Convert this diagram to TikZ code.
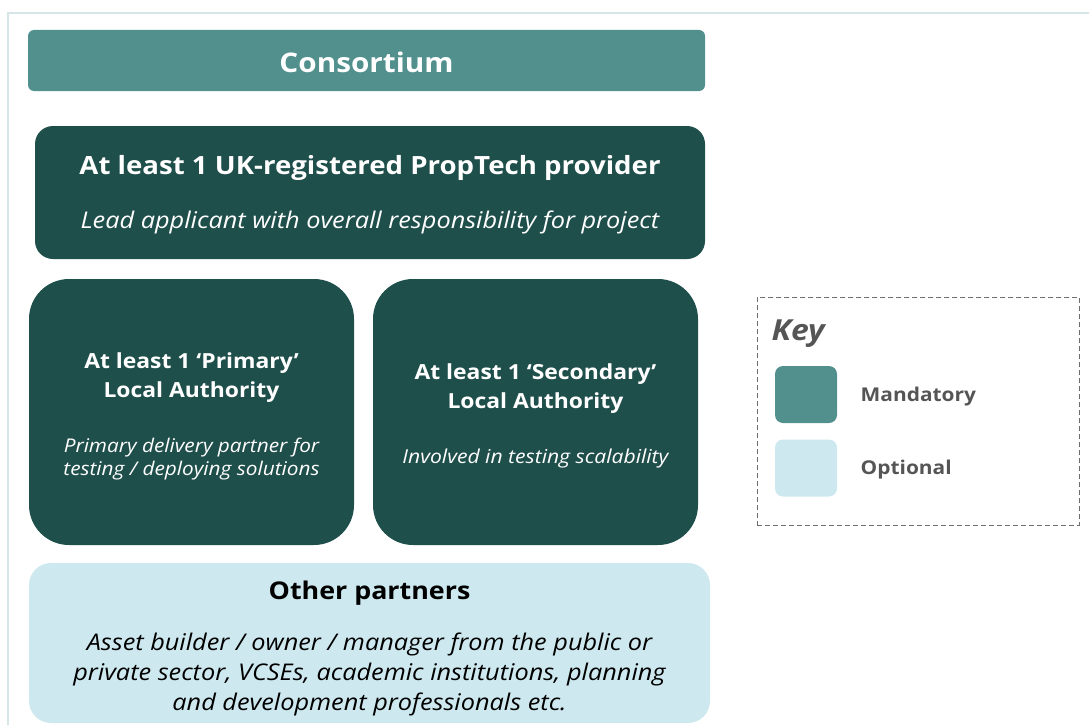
\documentclass[tikz,border=0pt]{standalone}
\usepackage{fontspec}
\setmainfont{Open Sans}[FakeStretch=1.1]
\usetikzlibrary{positioning}
\definecolor{mandcol}{HTML}{52908E}
\definecolor{darkcol}{HTML}{1F4F4B}
\definecolor{optcol}{HTML}{CDE9EF}
\definecolor{framecol}{HTML}{D6E6E8}
\definecolor{keygray}{HTML}{555555}
\tikzset{
  box/.style={inner sep=0pt, minimum width=#1},
  mandbox/.style={fill=mandcol, rounded corners=6pt},
  darkbox/.style={fill=darkcol},
  optbox/.style={fill=optcol, rounded corners=22pt},
  title/.style 2 args={font=\fontsize{#1}{#2}\selectfont\bfseries, align=center},
  note/.style 2 args={font=\fontsize{#1}{#2}\selectfont\itshape, align=center},
}
\begin{document}
\begin{tikzpicture}[x=1pt,y=-1pt]
\useasboundingbox (0,0) rectangle (1089,725);
\draw[framecol, line width=2pt] (8,730)--(8,13)--(1095,13);

\node[box=677, mandbox, minimum height=61] (consortium) at (366.5,60.5) {};
\node[box=670, darkbox, rounded corners=18pt, minimum height=133] (lead) at (370,192.5) {};
\node[box=325, darkbox, rounded corners=40pt, minimum height=266] (primary) at (191.5,412) {};
\node[box=325, darkbox, rounded corners=40pt, minimum height=266] (secondary) at (535.5,412) {};
\node[box=681, optbox, minimum height=160] (others) at (369.5,643) {};

\node[title={27}{32}, white] (consortiumtxt) at (366.5,62) {Consortium};
\node[title={25.1}{29}, white] (leadtxt) at (370,168) {At least 1 UK-registered PropTech provider};
\node[note={23}{25}, white] (leadnote) at (370,222) {Lead applicant with overall responsibility for project};
\node[title={20.8}{29}, white] (primarytxt) at (191.5,378) {At least 1 ‘Primary’\\Local Authority};
\node[note={18.9}{23}, white] (primarynote) at (191.5,459) {Primary delivery partner for\\testing / deploying solutions};
\node[title={20.8}{29}, white] (secondarytxt) at (535.5,389) {At least 1 ‘Secondary’\\Local Authority};
\node[note={19.2}{23}, white] (secondarynote) at (535.5,459) {Involved in testing scalability};
\node[title={24.4}{29}, black] (otherstxt) at (369.5,593) {Other partners};
\node[note={23}{30}, black] (othersnote) at (369.5,674) {Asset builder / owner / manager from the public or\\private sector, VCSEs, academic institutions, planning\\and development professionals etc.};

% key
\node[box=322, draw=keygray!85, dashed, dash pattern=on 5pt off 3pt, line width=1pt, minimum height=228] (key) at (918,411) {};
\node[font=\fontsize{29}{30}\selectfont\bfseries\itshape, text=keygray, anchor=west] (keytxt) at (768,334) {Key};
\node[box=62, mandbox, rounded corners=8pt, minimum height=57] (mandkey) at (806,394.5) {};
\node[box=62, fill=optcol, rounded corners=8pt, minimum height=57] (optkey) at (806,468) {};
\node[title={19}{23}, text=keygray, right=20pt of mandkey, yshift=-2pt] (mandtxt) {Mandatory};
\node[title={19}{23}, text=keygray, right=20pt of optkey, yshift=-2pt] (opttxt) {Optional};
\end{tikzpicture}
\end{document}
